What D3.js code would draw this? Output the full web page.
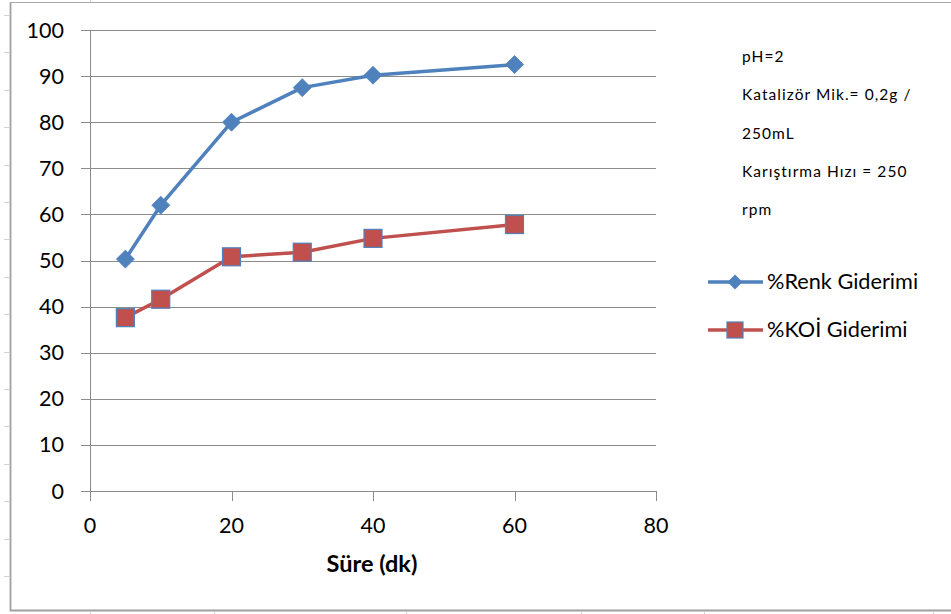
<!DOCTYPE html>
<html><head><meta charset="utf-8">
<script src="https://cdn.jsdelivr.net/npm/d3@7"></script>
<style>body{margin:0;background:#fff}svg{display:block}</style>
</head><body>
<svg id="c" width="951" height="614"></svg>
<script>
const times = [5, 10, 20, 30, 40, 60];
const renk = [50.3, 62, 80, 87.5, 90.2, 92.5];
const koi = [37.6, 41.6, 50.8, 51.8, 54.8, 57.8];
const seriesNames = ["%Renk Giderimi", "%KOİ Giderimi"];
const xTicks = [0, 20, 40, 60, 80];
const yTicks = [0, 10, 20, 30, 40, 50, 60, 70, 80, 90, 100];
const notes = ["pH=2", "Katalizör Mik.= 0,2g /", "250mL", "Karıştırma Hızı = 250", "rpm"];
const xTitle = "Süre (dk)";

const svg = d3.select("#c");
const font = "Lato, 'Open Sans', sans-serif";
const blue = "#4F81BD", red = "#C0504D", grid = "#8c8c8c";

// faint spreadsheet cell marks outside the chart frame
const rowMarks = d3.range(16).map(k => 15 + 37.4 * k);
const colMarks = [90, 214, 406, 581, 704, 933];
svg.append("g").selectAll("line").data(rowMarks).join("line")
  .attr("x1",4).attr("x2",9).attr("y1",d=>Math.round(d)+0.5).attr("y2",d=>Math.round(d)+0.5)
  .attr("stroke","#c9d3e3").attr("stroke-width",1);
svg.append("g").selectAll("line").data(colMarks).join("line")
  .attr("x1",d=>d+0.5).attr("x2",d=>d+0.5).attr("y1",612).attr("y2",614)
  .attr("stroke","#c9d3e3").attr("stroke-width",1);
svg.append("line").attr("x1",90.5).attr("x2",90.5).attr("y1",0).attr("y2",2).attr("stroke","#c9d3e3");

// outer frame
svg.append("path").attr("d","M10.5,2 V610.5 H951").attr("fill","none").attr("stroke","#a0a0a0").attr("stroke-width",1.8);
svg.append("line").attr("x1",10).attr("x2",951).attr("y1",2.5).attr("y2",2.5).attr("stroke","#a8a8a8").attr("stroke-width",1.2);

const x = d3.scaleLinear().domain([0,80]).range([90,656]);
const y = d3.scaleLinear().domain([0,100]).range([491,30]);

// gridlines
svg.append("g").selectAll("line").data(yTicks).join("line")
  .attr("x1",81).attr("x2",x(80)).attr("y1",d=>Math.round(y(d))+0.5).attr("y2",d=>Math.round(y(d))+0.5)
  .attr("stroke",grid).attr("stroke-width",1);
// y axis line
svg.append("line").attr("x1",90.5).attr("x2",90.5).attr("y1",y(100)).attr("y2",501).attr("stroke",grid);
// x ticks
svg.append("g").selectAll("line").data(xTicks.slice(1)).join("line")
  .attr("x1",d=>Math.round(x(d))+0.5).attr("x2",d=>Math.round(x(d))+0.5).attr("y1",491).attr("y2",501).attr("stroke",grid);

// labels
svg.append("g").selectAll("text").data(yTicks).join("text")
  .attr("x",64).attr("y",d=>y(d)+7.5).attr("text-anchor","end")
  .attr("font-family",font).attr("font-size",21.5).attr("fill","#000").text(d=>d);
svg.append("g").selectAll("text").data(xTicks).join("text")
  .attr("x",d=>x(d)).attr("y",533).attr("text-anchor","middle")
  .attr("font-family",font).attr("font-size",21.5).attr("fill","#000").text(d=>d);
svg.append("text").attr("x",372).attr("y",572).attr("text-anchor","middle")
  .attr("font-family",font).attr("font-weight","bold").attr("font-size",23.5).text(xTitle);

const line = d3.line().x(d=>x(d[0])).y(d=>y(d[1]));
const renkPts = times.map((t,i)=>[t,renk[i]]);
const koiPts = times.map((t,i)=>[t,koi[i]]);

svg.append("path").attr("d",line(renkPts)).attr("fill","none").attr("stroke",blue).attr("stroke-width",3.5).attr("stroke-linejoin","round");
svg.append("path").attr("d",line(koiPts)).attr("fill","none").attr("stroke",red).attr("stroke-width",3.5).attr("stroke-linejoin","round");

function diamondPath(cx,cy,r){return `M${cx},${cy-r}L${cx+r},${cy}L${cx},${cy+r}L${cx-r},${cy}Z`;}
svg.append("g").selectAll("path").data(renkPts).join("path")
  .attr("d",d=>diamondPath(x(d[0]),y(d[1]),9)).attr("fill",blue).attr("stroke",blue).attr("stroke-width",0.8);
svg.append("g").selectAll("rect").data(koiPts).join("rect")
  .attr("x",d=>x(d[0])-9).attr("y",d=>y(d[1])-9).attr("width",18).attr("height",18)
  .attr("fill",red).attr("stroke",blue).attr("stroke-width",1.2);

// notes
svg.append("g").selectAll("text").data(notes).join("text")
  .attr("x",742).attr("y",(d,i)=>62+i*38.3)
  .attr("font-family",font).attr("font-size",15.5).attr("letter-spacing",1.05).attr("fill","#000").text(d=>d);

// legend
const lg = svg.append("g");
const legY = [282, 330];
lg.append("line").attr("x1",708).attr("x2",763).attr("y1",legY[0]).attr("y2",legY[0]).attr("stroke",blue).attr("stroke-width",3.5);
lg.append("path").attr("d",diamondPath(735,legY[0],7.5)).attr("fill",blue);
lg.append("line").attr("x1",708).attr("x2",763).attr("y1",legY[1]).attr("y2",legY[1]).attr("stroke",red).attr("stroke-width",3.5);
lg.append("rect").attr("x",735-8).attr("y",legY[1]-8).attr("width",16).attr("height",16).attr("fill",red).attr("stroke",blue).attr("stroke-width",1.2);
lg.selectAll("text").data(seriesNames).join("text")
  .attr("x",767).attr("y",(d,i)=>legY[i]+6.5)
  .attr("font-family",font).attr("font-size",21.7).attr("fill","#000").text(d=>d);
</script>
</body></html>
